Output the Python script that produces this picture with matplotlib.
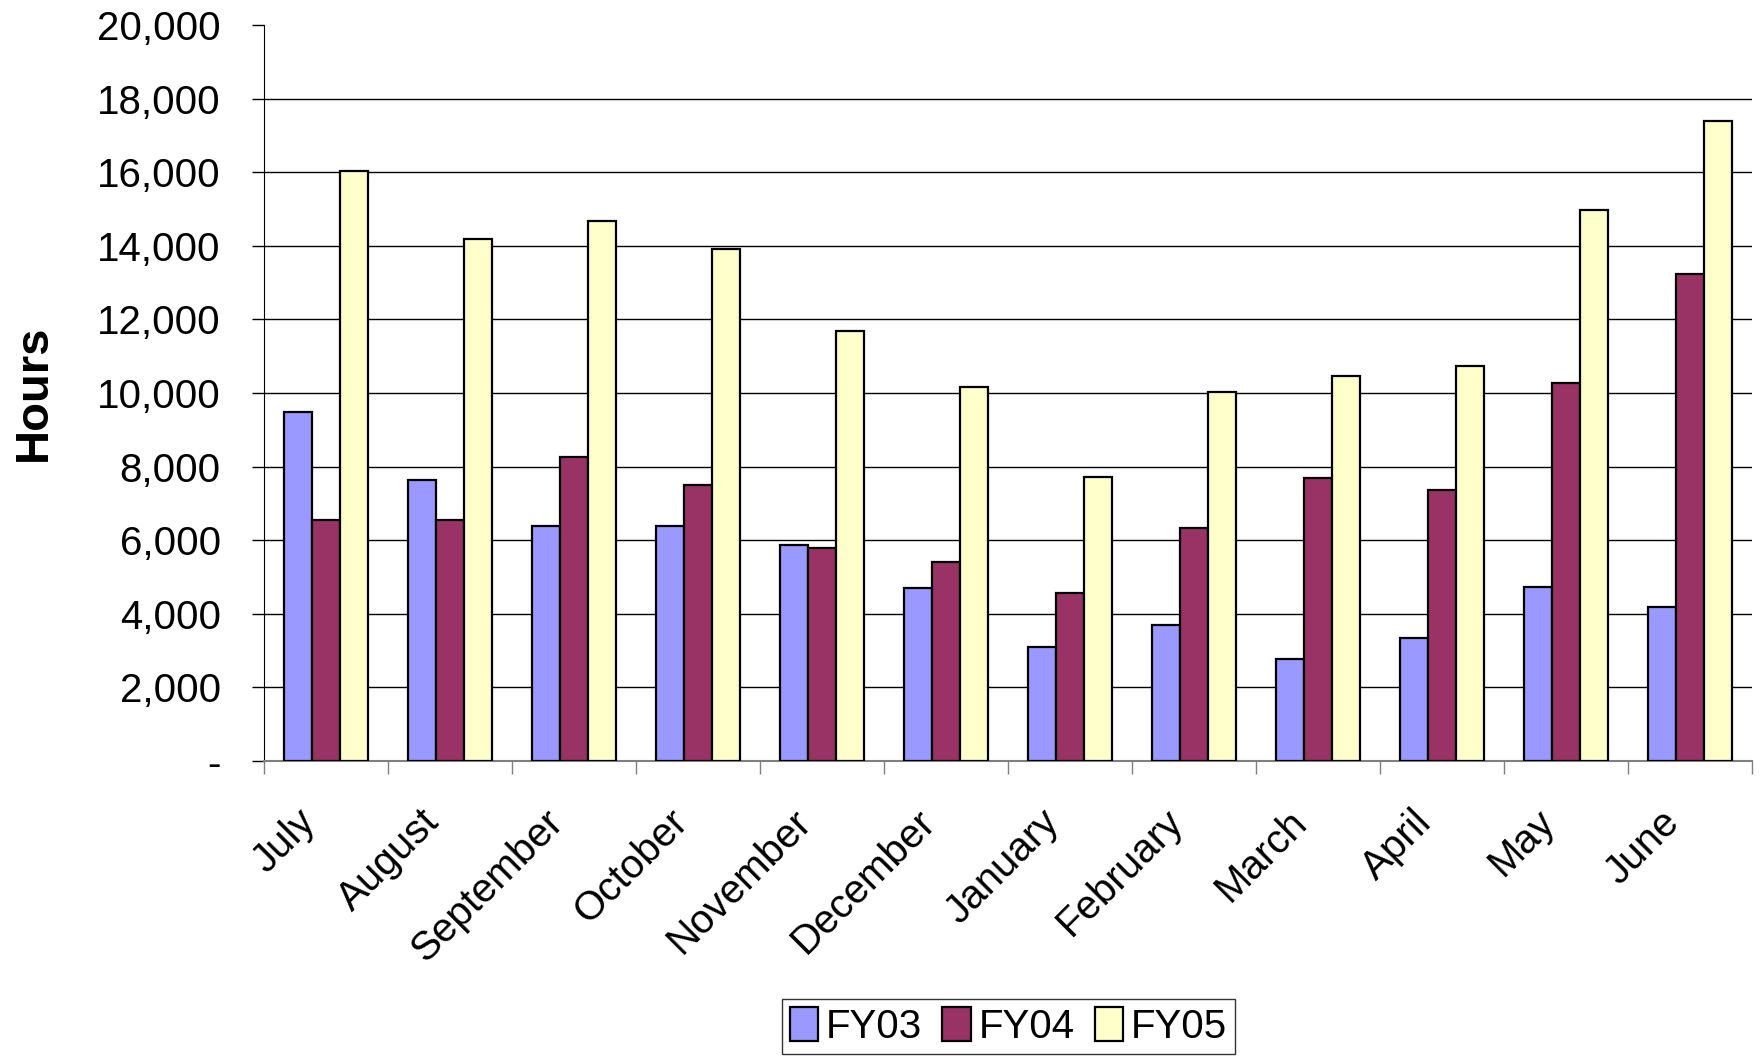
import numpy as np
import matplotlib
matplotlib.use('Agg')
import matplotlib.pyplot as plt
import matplotlib.transforms as mtransforms
from matplotlib.ticker import FuncFormatter, FixedLocator

plt.rcParams['font.family'] = ['Liberation Sans', 'DejaVu Sans']

# monthly hours per fiscal year
months = ['July', 'August', 'September', 'October', 'November', 'December',
          'January', 'February', 'March', 'April', 'May', 'June']
fy03 = [9470, 7640, 6380, 6380, 5880, 4710, 3110, 3700, 2760, 3350, 4730, 4180]
fy04 = [6560, 6550, 8270, 7500, 5780, 5420, 4570, 6340, 7700, 7360, 10270, 13220]
fy05 = [16030, 14180, 14660, 13900, 11680, 10160, 7710, 10040, 10470, 10730, 14980, 17390]
series_names = ['FY03', 'FY04', 'FY05']
colors = ['#9999FF', '#993366', '#FFFFCC']

fig = plt.figure(figsize=(17.63, 10.58), dpi=100)
ax = fig.add_axes([0.1497, 0.2807, 0.8441, 0.6957])

x = np.arange(len(months))
w = 0.227
for i, (vals, name, c) in enumerate(zip([fy03, fy04, fy05], series_names, colors)):
    ax.bar(x + (i - 1) * w, vals, width=w, color=c, edgecolor='black',
           linewidth=1.6, label=name, zorder=3)

ax.set_xlim(-0.5, len(months) - 0.5)
ax.set_ylim(0, 20000)

# gridlines (none on the top at 20,000)
for yv in range(2000, 20000, 2000):
    ax.axhline(yv, color='black', linewidth=1, zorder=1)

ax.set_yticks(range(0, 20001, 2000))
ax.yaxis.set_major_formatter(FuncFormatter(lambda v, p: '-' if v == 0 else f'{v:,.0f}'))
ax.tick_params(axis='y', labelsize=29, length=9, width=1, direction='out', pad=22)

ax.set_xticks(x)
ax.set_xticklabels(months, rotation=45, ha='right', rotation_mode='anchor')
ax.tick_params(axis='x', which='major', length=0, labelsize=29, pad=30)
ax.xaxis.set_minor_locator(FixedLocator(np.arange(-0.5, len(months), 1.0)))
ax.tick_params(axis='x', which='minor', length=9, width=1, color='#808080', direction='out')

# nudge the slanted month labels left, like the original
shift = mtransforms.ScaledTranslation(-0.30, 0, fig.dpi_scale_trans)
for lbl in ax.get_xticklabels():
    lbl.set_transform(lbl.get_transform() + shift)

ax.spines['top'].set_visible(False)
ax.spines['right'].set_visible(False)
ax.spines['left'].set_color('black')
ax.spines['bottom'].set_color('#808080')
ax.spines['bottom'].set_linewidth(1.5)

ax.set_ylabel('Hours', fontsize=34, fontweight='bold', labelpad=30)

leg = fig.legend(loc='lower center', bbox_to_anchor=(0.572, 0.0), ncol=3,
                 fontsize=29, frameon=True, fancybox=False, borderpad=0.2,
                 handlelength=0.7, handleheight=0.9, handletextpad=0.2,
                 columnspacing=0.5, borderaxespad=0.1)
leg.get_frame().set_edgecolor('black')
leg.get_frame().set_linewidth(1)

fig.savefig('out.png', dpi=100)
